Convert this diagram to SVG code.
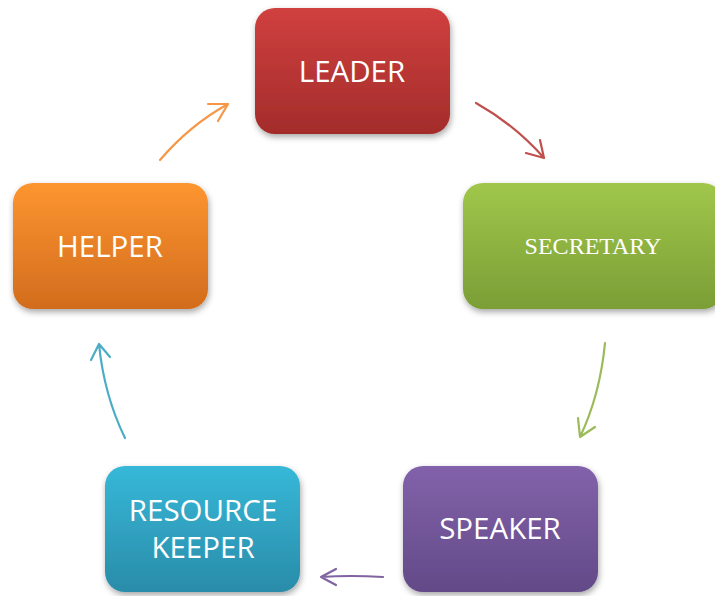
<svg xmlns="http://www.w3.org/2000/svg" width="715" height="596" viewBox="0 0 715 596">
<style>
.lbl{font-family:"Open Sans","Liberation Sans",sans-serif;font-size:29.5px;fill:#fff;text-anchor:middle}
.ser{font-family:"Liberation Serif",serif;font-size:24px;fill:#fff;text-anchor:middle}
.con{fill:none;stroke-width:2.2;stroke-linecap:round;stroke-linejoin:round}
</style>
<defs>
<linearGradient id="gR" x1="0" y1="0" x2="0" y2="1"><stop offset="0" stop-color="#d0403f"/><stop offset="1" stop-color="#a32c2b"/></linearGradient>
<linearGradient id="gG" x1="0" y1="0" x2="0" y2="1"><stop offset="0" stop-color="#a0c74b"/><stop offset="1" stop-color="#7b9e36"/></linearGradient>
<linearGradient id="gO" x1="0" y1="0" x2="0" y2="1"><stop offset="0" stop-color="#fd9530"/><stop offset="1" stop-color="#d26c1d"/></linearGradient>
<linearGradient id="gB" x1="0" y1="0" x2="0" y2="1"><stop offset="0" stop-color="#37b8d8"/><stop offset="1" stop-color="#298ca9"/></linearGradient>
<linearGradient id="gP" x1="0" y1="0" x2="0" y2="1"><stop offset="0" stop-color="#8262aa"/><stop offset="1" stop-color="#634a88"/></linearGradient>
<filter id="sh" x="-10%" y="-10%" width="125%" height="130%"><feDropShadow dx="1" dy="3" stdDeviation="3" flood-color="#000" flood-opacity="0.35"/></filter>
</defs>
<g id="leader"><rect x="255" y="8" width="195" height="126" rx="20" fill="url(#gR)" filter="url(#sh)"/><text class="lbl" x="352" y="82">LEADER</text></g>
<g id="secretary"><rect x="463" y="183" width="260" height="126" rx="20" fill="url(#gG)" filter="url(#sh)"/><text class="ser" x="593" y="254">SECRETARY</text></g>
<g id="helper"><rect x="13" y="183" width="195" height="126" rx="20" fill="url(#gO)" filter="url(#sh)"/><text class="lbl" x="110" y="257">HELPER</text></g>
<g id="resource-keeper"><rect x="105" y="466" width="195" height="126" rx="20" fill="url(#gB)" filter="url(#sh)"/><text class="lbl" x="203" y="521">RESOURCE</text><text class="lbl" x="203" y="558">KEEPER</text></g>
<g id="speaker"><rect x="403" y="466" width="195" height="126" rx="20" fill="url(#gP)" filter="url(#sh)"/><text class="lbl" x="500" y="539">SPEAKER</text></g>
<g id="connectors">
<path class="con" stroke="#f79646" d="M160 160 Q190 125 228 104 M208 104 L228 104 L218 121"/>
<path class="con" stroke="#c0504d" d="M476 103 Q515 125 544 158 M526 153 L544 158 L540 140"/>
<path class="con" stroke="#9bbb59" d="M605 343 Q600 395 580 437 M578 418 L580 437 L595 427"/>
<path class="con" stroke="#8064a2" d="M383 577 Q350 575 321 577 M336 569 L321 577 L336 585"/>
<path class="con" stroke="#4bacc6" d="M125 438 Q104 395 99 344 M91 360 L99 344 L110 357"/>
</g>
</svg>
